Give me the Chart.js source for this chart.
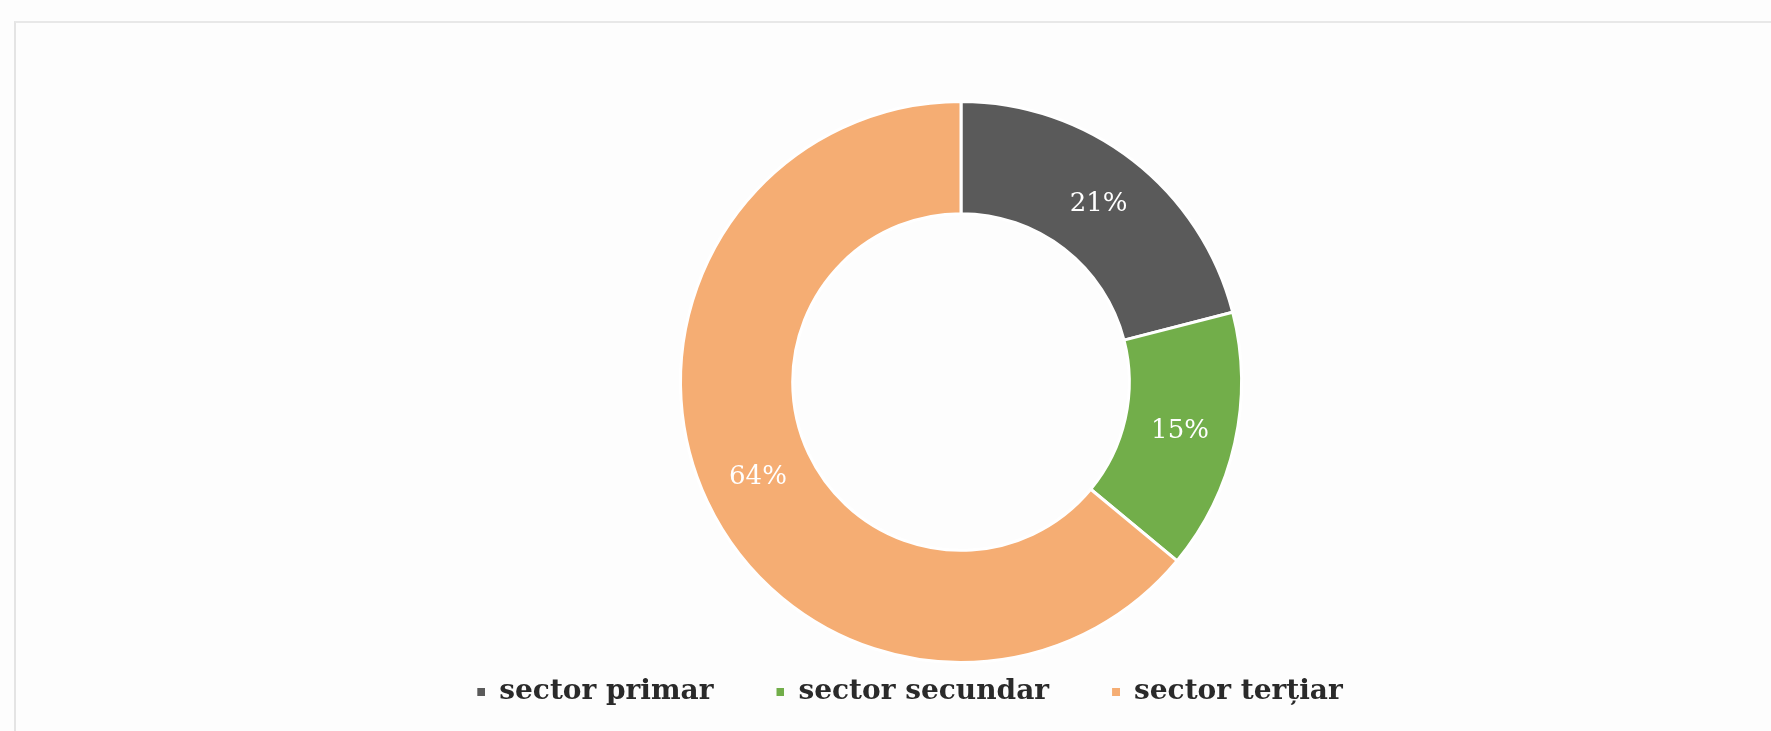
<!DOCTYPE html>
<html>
<head>
<meta charset="utf-8">
<script src="https://cdn.jsdelivr.net/npm/chart.js@4.4.0/dist/chart.umd.min.js"></script>
<style>
  html, body { margin: 0; padding: 0; background: #fdfdfd; }
  #wrap { position: relative; width: 1771px; height: 731px; }
  #frame {
    position: absolute; left: 14px; top: 21px; right: 0; bottom: 0;
    border-left: 2px solid #e4e4e4; border-top: 2px solid #e8e8e8;
  }
  canvas { position: absolute; left: 0; top: 0; }
</style>
</head>
<body>
<div id="wrap">
  <div id="frame"></div>
  <canvas id="myChart"></canvas>
</div>
<script>
var sectors = ["sector primar", "sector secundar", "sector terțiar"];
var shares = [21, 15, 64];
var colors = ["#5a5a5a", "#72ae4a", "#f5ad73"];

// legend marker: small square at the right end of a wider transparent box
function marker(color) {
  var c = document.createElement("canvas");
  c.width = 57;
  c.height = 8;
  var g = c.getContext("2d");
  g.fillStyle = color;
  g.fillRect(49, 0, 8, 8);
  return c;
}

// move the ring right of the legend's centre
var shiftRing = {
  id: "shiftRing",
  afterLayout: function (chart) {
    chart.chartArea.left += 151;
    chart.chartArea.width -= 151;
  }
};

var pctLabels = {
  id: "pctLabels",
  afterDatasetsDraw: function (chart) {
    var ctx = chart.ctx;
    var meta = chart.getDatasetMeta(0);
    ctx.save();
    ctx.fillStyle = "#ffffff";
    ctx.font = "26px 'DejaVu Serif'";
    ctx.textAlign = "center";
    ctx.textBaseline = "middle";
    meta.data.forEach(function (arc, i) {
      var p = arc.getCenterPoint();
      ctx.fillText(shares[i] + "%", p.x, p.y);
    });
    ctx.restore();
  }
};

var ctx = document.getElementById("myChart").getContext("2d");
var chart = new Chart(ctx, {
  type: "doughnut",
  data: {
    labels: sectors,
    datasets: [
      {
        data: shares,
        backgroundColor: colors,
        borderColor: "#ffffff",
        borderWidth: 3,
      },
    ],
  },
  options: {
    responsive: true,
    maintainAspectRatio: false,
    animation: false,
    cutout: "60%",
    layout: { padding: { top: 100, bottom: 15, left: 0, right: 0 } },
    plugins: {
      tooltip: { enabled: false },
      legend: {
        position: "bottom",
        labels: {
          usePointStyle: true,
          pointStyleWidth: 57,
          padding: 14,
          color: "#2a2a2a",
          font: { family: "'DejaVu Serif'", size: 28, weight: "bold" },
          generateLabels: function (chart) {
            return chart.data.labels.map(function (label, i) {
              return {
                text: label,
                fillStyle: colors[i],
                strokeStyle: colors[i],
                lineWidth: 0,
                pointStyle: marker(colors[i]),
                fontColor: "#2a2a2a",
                hidden: false,
                index: i,
              };
            });
          },
        },
      },
    },
  },
  plugins: [shiftRing, pctLabels],
});
</script>
</body>
</html>
